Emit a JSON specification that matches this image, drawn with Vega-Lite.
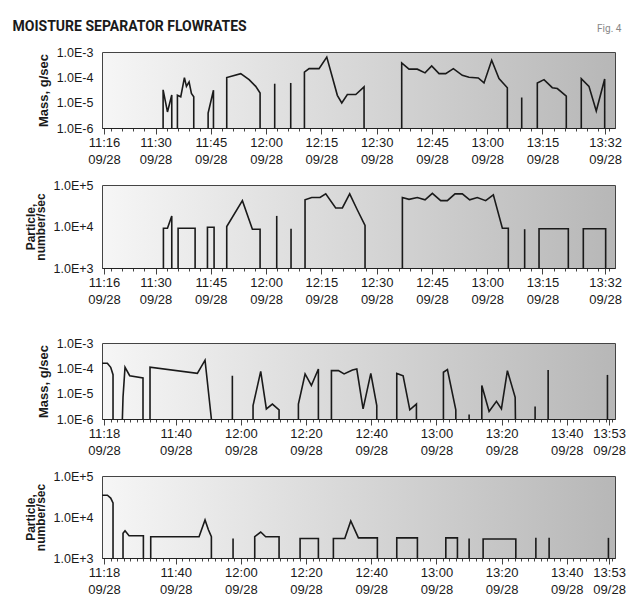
{
  "$schema": "https://vega.github.io/schema/vega-lite/v6.json",
  "background": "white",
  "padding": {"left": 12, "top": 19, "right": 5, "bottom": 0},
  "title": {"text": "MOISTURE SEPARATOR FLOWRATES", "anchor": "start", "frame": "bounds", "font": "Roboto", "fontSize": 14, "fontWeight": "bold", "color": "#1a1a1a", "offset": -10, "dx": -11},
  "config": {
    "view": {"stroke": "#444", "strokeWidth": 1, "fill": {"gradient": "linear", "x1": 0, "y1": 0, "x2": 1, "y2": 0, "stops": [{"offset": 0, "color": "#f6f6f6"}, {"offset": 1, "color": "#b7b7b7"}]}},
    "axis": {"labelFont": "Liberation Sans", "titleFont": "Liberation Sans", "labelColor": "#1a1a1a", "titleColor": "#1a1a1a", "grid": false},
    "axisX": {"labelFlush": false, "labelOverlap": false, "labelFontSize": 13, "labelLineHeight": 17, "labelPadding": 2, "domainColor": "#222", "tickColor": "#444", "title": null},
    "axisY": {"labelExpr": "replace(format(datum.value,'.1e'),'e','E')", "ticks": false, "domain": false, "labelPadding": 9, "labelFontSize": 12.5, "titleFontSize": 13, "titleFontWeight": "bold", "titlePadding": 6, "titleLineHeight": 10},
    "line": {"color": "#1a1a1a", "strokeWidth": 1.6, "clip": true}
  },
  "spacing": 29,
  "vconcat": [
    {
      "spacing": 11,
      "vconcat": [
        {
          "width": 513, "height": 76,
          "title": {"text": "Fig. 4", "anchor": "end", "fontSize": 10, "color": "#888", "font": "Roboto", "fontWeight": "normal", "offset": 12},
          "data": {"values": [
            {"s":"A","t":"09/28 11:32:03","v":1e-6},{"s":"A","t":"09/28 11:32:03","v":3.2e-5},{"s":"A","t":"09/28 11:33:14","v":4.3e-6},{"s":"A","t":"09/28 11:34:24","v":2.0e-5},{"s":"A","t":"09/28 11:34:24","v":1e-6},
            {"s":"B","t":"09/28 11:35:56","v":1e-6},{"s":"B","t":"09/28 11:35:56","v":1.95e-5},{"s":"B","t":"09/28 11:36:50","v":1.7e-5},{"s":"B","t":"09/28 11:37:50","v":9.8e-5},{"s":"B","t":"09/28 11:38:23","v":4.4e-5},{"s":"B","t":"09/28 11:39:06","v":6.6e-5},{"s":"B","t":"09/28 11:39:44","v":2.3e-5},{"s":"B","t":"09/28 11:40:22","v":1.7e-5},{"s":"B","t":"09/28 11:40:22","v":1e-6},
            {"s":"C","t":"09/28 11:44:16","v":1e-6},{"s":"C","t":"09/28 11:44:16","v":3.9e-6},{"s":"C","t":"09/28 11:45:43","v":3.1e-5},{"s":"C","t":"09/28 11:45:43","v":1e-6},
            {"s":"D","t":"09/28 11:49:19","v":1e-6},{"s":"D","t":"09/28 11:49:19","v":9.8e-5},{"s":"D","t":"09/28 11:53:07","v":1.4e-4},{"s":"D","t":"09/28 11:55:23","v":8.1e-5},{"s":"D","t":"09/28 11:57:11","v":4.4e-5},{"s":"D","t":"09/28 11:58:22","v":2.4e-5},{"s":"D","t":"09/28 11:58:22","v":1e-6},
            {"s":"S1","t":"09/28 12:02:20","v":1e-6},{"s":"S1","t":"09/28 12:02:20","v":5.6e-5},
            {"s":"S2","t":"09/28 12:06:41","v":1e-6},{"s":"S2","t":"09/28 12:06:41","v":6.0e-5},
            {"s":"E","t":"09/28 12:10:24","v":1e-6},{"s":"E","t":"09/28 12:10:24","v":1.6e-4},{"s":"E","t":"09/28 12:11:40","v":2.2e-4},{"s":"E","t":"09/28 12:14:22","v":2.2e-4},{"s":"E","t":"09/28 12:16:28","v":6.3e-4},{"s":"E","t":"09/28 12:17:59","v":1.0e-4},{"s":"E","t":"09/28 12:19:20","v":1.95e-5},{"s":"E","t":"09/28 12:20:32","v":9.8e-6},{"s":"E","t":"09/28 12:22:03","v":2.1e-5},{"s":"E","t":"09/28 12:24:20","v":2.1e-5},{"s":"E","t":"09/28 12:26:35","v":4.2e-5},{"s":"E","t":"09/28 12:26:35","v":1e-6},
            {"s":"F","t":"09/28 12:36:48","v":1e-6},{"s":"F","t":"09/28 12:36:48","v":3.7e-4},{"s":"F","t":"09/28 12:38:47","v":2.1e-4},{"s":"F","t":"09/28 12:41:02","v":2.1e-4},{"s":"F","t":"09/28 12:43:08","v":1.5e-4},{"s":"F","t":"09/28 12:44:56","v":2.8e-4},{"s":"F","t":"09/28 12:46:56","v":1.4e-4},{"s":"F","t":"09/28 12:48:44","v":1.4e-4},{"s":"F","t":"09/28 12:50:49","v":2.2e-4},{"s":"F","t":"09/28 12:53:15","v":1.2e-4},{"s":"F","t":"09/28 12:55:04","v":1.0e-4},{"s":"F","t":"09/28 12:57:35","v":9.4e-5},{"s":"F","t":"09/28 12:59:08","v":6.0e-5},{"s":"F","t":"09/28 13:01:13","v":4.7e-4},{"s":"F","t":"09/28 13:03:12","v":8.9e-5},{"s":"F","t":"09/28 13:05:28","v":3.9e-5},{"s":"F","t":"09/28 13:05:28","v":1e-6},
            {"s":"S3","t":"09/28 13:09:22","v":1e-6},{"s":"S3","t":"09/28 13:09:22","v":1.6e-5},
            {"s":"G","t":"09/28 13:13:36","v":1e-6},{"s":"G","t":"09/28 13:13:36","v":6.0e-5},{"s":"G","t":"09/28 13:15:25","v":8.1e-5},{"s":"G","t":"09/28 13:17:40","v":3.9e-5},{"s":"G","t":"09/28 13:19:02","v":3.6e-5},{"s":"G","t":"09/28 13:21:28","v":1.8e-5},{"s":"G","t":"09/28 13:21:28","v":1e-6},
            {"s":"H","t":"09/28 13:25:32","v":1e-6},{"s":"H","t":"09/28 13:25:32","v":8.9e-5},{"s":"H","t":"09/28 13:27:37","v":4.4e-5},{"s":"H","t":"09/28 13:29:36","v":4.7e-6},{"s":"H","t":"09/28 13:31:53","v":8.6e-5},{"s":"H","t":"09/28 13:31:53","v":1e-6}
          ], "format": {"parse": {"t": "utc:'%m/%d %H:%M:%S'"}}},
          "mark": "line",
          "encoding": {
            "x": {"field": "t", "type": "temporal",
              "scale": {"type": "utc", "domain": [{"year":1900,"month":9,"date":28,"hours":11,"minutes":15,"seconds":28,"utc":true},{"year":1900,"month":9,"date":28,"hours":13,"minutes":34,"seconds":41,"utc":true}]},
              "axis": {
                "values": {"expr": "sequence(utc(1900,8,28,11,16), utc(1900,8,28,13,35), 60000)"},
                "labelExpr": "indexof(['11:16','11:30','11:45','12:00','12:15','12:30','12:45','13:00','13:15','13:32'], utcFormat(datum.value,'%H:%M')) >= 0 ? [utcFormat(datum.value,'%H:%M'), utcFormat(datum.value,'%m/%d')] : ''",
                "tickSize": {"condition": {"test": "indexof(['11:16','11:30','11:45','12:00','12:15','12:30','12:45','13:00','13:15','13:32'], utcFormat(datum.value,'%H:%M')) >= 0", "value": 6}, "value": 3},
                "tickOpacity": {"condition": {"test": "utcminutes(datum.value) % 3 == 0 || indexof(['11:16','13:32'], utcFormat(datum.value,'%H:%M')) >= 0", "value": 1}, "value": 0}
              }},
            "y": {"field": "v", "type": "quantitative", "scale": {"type": "log", "domain": [0.000001, 0.001]}, "axis": {"title": "Mass, g/sec", "values": [0.000001, 0.00001, 0.0001, 0.001]}},
            "detail": {"field": "s"},
            "order": {"value": null}
          }
        },
        {
          "width": 513, "height": 83,
          "data": {"values": [
            {"s":"a","t":"09/28 11:32:08","v":1000},{"s":"a","t":"09/28 11:32:08","v":9100},{"s":"a","t":"09/28 11:33:14","v":9100},{"s":"a","t":"09/28 11:34:24","v":18000},{"s":"a","t":"09/28 11:34:24","v":1000},
            {"s":"b","t":"09/28 11:36:07","v":1000},{"s":"b","t":"09/28 11:36:07","v":9100},{"s":"b","t":"09/28 11:40:44","v":9100},{"s":"b","t":"09/28 11:40:44","v":1000},
            {"s":"c","t":"09/28 11:44:05","v":1000},{"s":"c","t":"09/28 11:44:05","v":9600},{"s":"c","t":"09/28 11:45:53","v":9600},{"s":"c","t":"09/28 11:45:53","v":1000},
            {"s":"d","t":"09/28 11:49:19","v":1000},{"s":"d","t":"09/28 11:49:19","v":10000},{"s":"d","t":"09/28 11:53:34","v":42000},{"s":"d","t":"09/28 11:56:17","v":8600},{"s":"d","t":"09/28 11:58:22","v":8600},{"s":"d","t":"09/28 11:58:22","v":1000},
            {"s":"s1","t":"09/28 12:02:53","v":1000},{"s":"s1","t":"09/28 12:02:53","v":18000},
            {"s":"s2","t":"09/28 12:06:46","v":1000},{"s":"s2","t":"09/28 12:06:46","v":8800},
            {"s":"e","t":"09/28 12:10:34","v":1000},{"s":"e","t":"09/28 12:10:34","v":44000},{"s":"e","t":"09/28 12:12:23","v":50000},{"s":"e","t":"09/28 12:14:38","v":50000},{"s":"e","t":"09/28 12:16:11","v":61000},{"s":"e","t":"09/28 12:18:53","v":28000},{"s":"e","t":"09/28 12:20:42","v":28000},{"s":"e","t":"09/28 12:22:41","v":61000},{"s":"e","t":"09/28 12:24:46","v":25000},{"s":"e","t":"09/28 12:26:51","v":10600},{"s":"e","t":"09/28 12:26:51","v":1000},
            {"s":"f","t":"09/28 12:36:59","v":1000},{"s":"f","t":"09/28 12:36:59","v":50000},{"s":"f","t":"09/28 12:38:47","v":45000},{"s":"f","t":"09/28 12:41:02","v":50000},{"s":"f","t":"09/28 12:43:08","v":44000},{"s":"f","t":"09/28 12:45:07","v":63000},{"s":"f","t":"09/28 12:47:23","v":42000},{"s":"f","t":"09/28 12:49:11","v":42000},{"s":"f","t":"09/28 12:51:16","v":61000},{"s":"f","t":"09/28 12:53:15","v":61000},{"s":"f","t":"09/28 12:55:15","v":44000},{"s":"f","t":"09/28 12:57:19","v":50000},{"s":"f","t":"09/28 12:59:35","v":42000},{"s":"f","t":"09/28 13:01:40","v":58000},{"s":"f","t":"09/28 13:04:07","v":9100},{"s":"f","t":"09/28 13:05:44","v":9100},{"s":"f","t":"09/28 13:05:44","v":1000},
            {"s":"s3","t":"09/28 13:10:10","v":1000},{"s":"s3","t":"09/28 13:10:10","v":8600},
            {"s":"g","t":"09/28 13:14:04","v":1000},{"s":"g","t":"09/28 13:14:04","v":8800},{"s":"g","t":"09/28 13:22:01","v":8800},{"s":"g","t":"09/28 13:22:01","v":1000},
            {"s":"h","t":"09/28 13:26:05","v":1000},{"s":"h","t":"09/28 13:26:05","v":8800},{"s":"h","t":"09/28 13:32:09","v":8800},{"s":"h","t":"09/28 13:32:09","v":1000}
          ], "format": {"parse": {"t": "utc:'%m/%d %H:%M:%S'"}}},
          "mark": "line",
          "encoding": {
            "x": {"field": "t", "type": "temporal",
              "scale": {"type": "utc", "domain": [{"year":1900,"month":9,"date":28,"hours":11,"minutes":15,"seconds":28,"utc":true},{"year":1900,"month":9,"date":28,"hours":13,"minutes":34,"seconds":41,"utc":true}]},
              "axis": {
                "values": {"expr": "sequence(utc(1900,8,28,11,16), utc(1900,8,28,13,35), 60000)"},
                "labelExpr": "indexof(['11:16','11:30','11:45','12:00','12:15','12:30','12:45','13:00','13:15','13:32'], utcFormat(datum.value,'%H:%M')) >= 0 ? [utcFormat(datum.value,'%H:%M'), utcFormat(datum.value,'%m/%d')] : ''",
                "tickSize": {"condition": {"test": "indexof(['11:16','11:30','11:45','12:00','12:15','12:30','12:45','13:00','13:15','13:32'], utcFormat(datum.value,'%H:%M')) >= 0", "value": 6}, "value": 3},
                "tickOpacity": {"condition": {"test": "utcminutes(datum.value) % 3 == 0 || indexof(['11:16','13:32'], utcFormat(datum.value,'%H:%M')) >= 0", "value": 1}, "value": 0}
              }},
            "y": {"field": "v", "type": "quantitative", "scale": {"type": "log", "domain": [1000, 100000]}, "axis": {"title": ["Particle,", "number/sec"], "titleFontSize": 12, "values": [1000, 10000, 100000]}},
            "detail": {"field": "s"},
            "order": {"value": null}
          }
        }
      ]
    },
    {
      "spacing": 11,
      "vconcat": [
        {
          "width": 513, "height": 76,
          "data": {"values": [
            {"s":"A","t":"09/28 11:17:24","v":1.58e-4},{"s":"A","t":"09/28 11:19:02","v":1.58e-4},{"s":"A","t":"09/28 11:20:03","v":1.1e-4},{"s":"A","t":"09/28 11:20:46","v":5.6e-5},{"s":"A","t":"09/28 11:20:46","v":1e-6},
            {"s":"B","t":"09/28 11:23:38","v":1e-6},{"s":"B","t":"09/28 11:23:50","v":7.2e-6},{"s":"B","t":"09/28 11:24:27","v":1.1e-4},{"s":"B","t":"09/28 11:25:53","v":5.1e-5},{"s":"B","t":"09/28 11:29:58","v":4.2e-5},{"s":"B","t":"09/28 11:29:58","v":1e-6},
            {"s":"C","t":"09/28 11:32:07","v":1e-6},{"s":"C","t":"09/28 11:32:07","v":1.1e-4},{"s":"C","t":"09/28 11:46:39","v":6.3e-5},{"s":"C","t":"09/28 11:49:00","v":2.1e-4},{"s":"C","t":"09/28 11:50:57","v":1e-6},
            {"s":"S1","t":"09/28 11:57:23","v":1e-6},{"s":"S1","t":"09/28 11:57:23","v":5.1e-5},
            {"s":"D","t":"09/28 12:03:44","v":1e-6},{"s":"D","t":"09/28 12:03:44","v":3.4e-6},{"s":"D","t":"09/28 12:06:05","v":7.6e-5},{"s":"D","t":"09/28 12:07:49","v":2.5e-6},{"s":"D","t":"09/28 12:09:40","v":3.9e-6},{"s":"D","t":"09/28 12:11:43","v":2.3e-6},{"s":"D","t":"09/28 12:11:43","v":1e-6},
            {"s":"E","t":"09/28 12:17:39","v":1e-6},{"s":"E","t":"09/28 12:17:39","v":3.9e-6},{"s":"E","t":"09/28 12:19:42","v":6.0e-5},{"s":"E","t":"09/28 12:21:38","v":2.1e-5},{"s":"E","t":"09/28 12:23:47","v":9.4e-5},{"s":"E","t":"09/28 12:23:47","v":1e-6},
            {"s":"F","t":"09/28 12:27:47","v":1e-6},{"s":"F","t":"09/28 12:27:47","v":8.1e-5},{"s":"F","t":"09/28 12:29:56","v":8.1e-5},{"s":"F","t":"09/28 12:31:40","v":6.0e-5},{"s":"F","t":"09/28 12:34:14","v":8.6e-5},{"s":"F","t":"09/28 12:35:34","v":9.4e-5},{"s":"F","t":"09/28 12:37:30","v":2.5e-6},{"s":"F","t":"09/28 12:39:52","v":6.3e-5},{"s":"F","t":"09/28 12:41:42","v":3.4e-6},{"s":"F","t":"09/28 12:41:42","v":1e-6},
            {"s":"G","t":"09/28 12:47:50","v":1e-6},{"s":"G","t":"09/28 12:47:50","v":6.3e-5},{"s":"G","t":"09/28 12:49:47","v":5.1e-5},{"s":"G","t":"09/28 12:51:50","v":2.3e-6},{"s":"G","t":"09/28 12:53:52","v":3.9e-6},{"s":"G","t":"09/28 12:53:52","v":1e-6},
            {"s":"H","t":"09/28 13:02:09","v":1e-6},{"s":"H","t":"09/28 13:02:09","v":7.0e-5},{"s":"H","t":"09/28 13:03:23","v":8.9e-5},{"s":"H","t":"09/28 13:05:57","v":2.3e-6},{"s":"H","t":"09/28 13:05:57","v":1e-6},
            {"s":"S2","t":"09/28 13:10:02","v":1e-6},{"s":"S2","t":"09/28 13:10:02","v":1.5e-6},
            {"s":"I","t":"09/28 13:13:56","v":1e-6},{"s":"I","t":"09/28 13:13:56","v":2.1e-5},{"s":"I","t":"09/28 13:16:10","v":2.0e-6},{"s":"I","t":"09/28 13:18:25","v":5.0e-6},{"s":"I","t":"09/28 13:19:57","v":2.5e-6},{"s":"I","t":"09/28 13:21:47","v":8.1e-5},{"s":"I","t":"09/28 13:24:10","v":7.2e-6},{"s":"I","t":"09/28 13:24:15","v":1e-6},
            {"s":"S3","t":"09/28 13:30:17","v":1e-6},{"s":"S3","t":"09/28 13:30:17","v":3.1e-6},
            {"s":"S4","t":"09/28 13:34:17","v":1e-6},{"s":"S4","t":"09/28 13:34:17","v":8.6e-5},
            {"s":"S5","t":"09/28 13:52:29","v":1e-6},{"s":"S5","t":"09/28 13:52:29","v":5.5e-5}
          ], "format": {"parse": {"t": "utc:'%m/%d %H:%M:%S'"}}},
          "mark": "line",
          "encoding": {
            "x": {"field": "t", "type": "temporal",
              "scale": {"type": "utc", "domain": [{"year":1900,"month":9,"date":28,"hours":11,"minutes":17,"seconds":23,"utc":true},{"year":1900,"month":9,"date":28,"hours":13,"minutes":54,"seconds":48,"utc":true}]},
              "axis": {
                "values": {"expr": "sequence(utc(1900,8,28,11,18), utc(1900,8,28,13,55), 60000)"},
                "labelExpr": "indexof(['11:18','11:40','12:00','12:20','12:40','13:00','13:20','13:40','13:53'], utcFormat(datum.value,'%H:%M')) >= 0 ? [utcFormat(datum.value,'%H:%M'), utcFormat(datum.value,'%m/%d')] : ''",
                "tickSize": {"condition": {"test": "indexof(['11:18','11:40','12:00','12:20','12:40','13:00','13:20','13:40','13:53'], utcFormat(datum.value,'%H:%M')) >= 0", "value": 6}, "value": 3},
                "tickOpacity": {"condition": {"test": "utcminutes(datum.value) % 2 == 0 || utcFormat(datum.value,'%H:%M') == '13:53'", "value": 1}, "value": 0}
              }},
            "y": {"field": "v", "type": "quantitative", "scale": {"type": "log", "domain": [0.000001, 0.001]}, "axis": {"title": "Mass, g/sec", "values": [0.000001, 0.00001, 0.0001, 0.001]}},
            "detail": {"field": "s"},
            "order": {"value": null}
          }
        },
        {
          "width": 513, "height": 82,
          "data": {"values": [
            {"s":"A","t":"09/28 11:17:24","v":34000},{"s":"A","t":"09/28 11:19:02","v":34000},{"s":"A","t":"09/28 11:20:03","v":29000},{"s":"A","t":"09/28 11:20:46","v":22000},{"s":"A","t":"09/28 11:20:46","v":1000},
            {"s":"B","t":"09/28 11:23:50","v":1000},{"s":"B","t":"09/28 11:23:50","v":4000},{"s":"B","t":"09/28 11:24:27","v":4600},{"s":"B","t":"09/28 11:25:41","v":3500},{"s":"B","t":"09/28 11:30:05","v":3500},{"s":"B","t":"09/28 11:30:05","v":1000},
            {"s":"C","t":"09/28 11:32:20","v":1000},{"s":"C","t":"09/28 11:32:20","v":3300},{"s":"C","t":"09/28 11:47:10","v":3300},{"s":"C","t":"09/28 11:49:00","v":8500},{"s":"C","t":"09/28 11:50:02","v":4900},{"s":"C","t":"09/28 11:50:57","v":3300},{"s":"C","t":"09/28 11:50:57","v":1000},
            {"s":"S1","t":"09/28 11:57:36","v":1000},{"s":"S1","t":"09/28 11:57:36","v":3000},
            {"s":"D","t":"09/28 12:04:15","v":1000},{"s":"D","t":"09/28 12:04:15","v":3300},{"s":"D","t":"09/28 12:06:05","v":4300},{"s":"D","t":"09/28 12:07:37","v":3300},{"s":"D","t":"09/28 12:11:43","v":3300},{"s":"D","t":"09/28 12:11:43","v":1000},
            {"s":"E","t":"09/28 12:18:10","v":1000},{"s":"E","t":"09/28 12:18:10","v":3000},{"s":"E","t":"09/28 12:23:47","v":3000},{"s":"E","t":"09/28 12:23:47","v":1000},
            {"s":"F","t":"09/28 12:28:23","v":1000},{"s":"F","t":"09/28 12:28:23","v":3000},{"s":"F","t":"09/28 12:31:53","v":3000},{"s":"F","t":"09/28 12:33:43","v":8000},{"s":"F","t":"09/28 12:36:04","v":3100},{"s":"F","t":"09/28 12:41:53","v":3100},{"s":"F","t":"09/28 12:41:53","v":1000},
            {"s":"G","t":"09/28 12:47:50","v":1000},{"s":"G","t":"09/28 12:47:50","v":3100},{"s":"G","t":"09/28 12:54:10","v":3100},{"s":"G","t":"09/28 12:54:10","v":1000},
            {"s":"H","t":"09/28 13:02:53","v":1000},{"s":"H","t":"09/28 13:02:53","v":3100},{"s":"H","t":"09/28 13:06:27","v":3100},{"s":"H","t":"09/28 13:06:27","v":1000},
            {"s":"S2","t":"09/28 13:10:02","v":1000},{"s":"S2","t":"09/28 13:10:02","v":3000},
            {"s":"I","t":"09/28 13:14:20","v":1000},{"s":"I","t":"09/28 13:14:20","v":2900},{"s":"I","t":"09/28 13:24:22","v":2900},{"s":"I","t":"09/28 13:24:22","v":1000},
            {"s":"S3","t":"09/28 13:30:31","v":1000},{"s":"S3","t":"09/28 13:30:31","v":3100},
            {"s":"S4","t":"09/28 13:34:35","v":1000},{"s":"S4","t":"09/28 13:34:35","v":3100},
            {"s":"S5","t":"09/28 13:52:47","v":1000},{"s":"S5","t":"09/28 13:52:47","v":3100}
          ], "format": {"parse": {"t": "utc:'%m/%d %H:%M:%S'"}}},
          "mark": "line",
          "encoding": {
            "x": {"field": "t", "type": "temporal",
              "scale": {"type": "utc", "domain": [{"year":1900,"month":9,"date":28,"hours":11,"minutes":17,"seconds":23,"utc":true},{"year":1900,"month":9,"date":28,"hours":13,"minutes":54,"seconds":48,"utc":true}]},
              "axis": {
                "values": {"expr": "sequence(utc(1900,8,28,11,18), utc(1900,8,28,13,55), 60000)"},
                "labelExpr": "indexof(['11:18','11:40','12:00','12:20','12:40','13:00','13:20','13:40','13:53'], utcFormat(datum.value,'%H:%M')) >= 0 ? [utcFormat(datum.value,'%H:%M'), utcFormat(datum.value,'%m/%d')] : ''",
                "tickSize": {"condition": {"test": "indexof(['11:18','11:40','12:00','12:20','12:40','13:00','13:20','13:40','13:53'], utcFormat(datum.value,'%H:%M')) >= 0", "value": 6}, "value": 3},
                "tickOpacity": {"condition": {"test": "utcminutes(datum.value) % 2 == 0 || utcFormat(datum.value,'%H:%M') == '13:53'", "value": 1}, "value": 0}
              }},
            "y": {"field": "v", "type": "quantitative", "scale": {"type": "log", "domain": [1000, 100000]}, "axis": {"title": ["Particle,", "number/sec"], "titleFontSize": 12, "values": [1000, 10000, 100000]}},
            "detail": {"field": "s"},
            "order": {"value": null}
          }
        }
      ]
    }
  ]
}
